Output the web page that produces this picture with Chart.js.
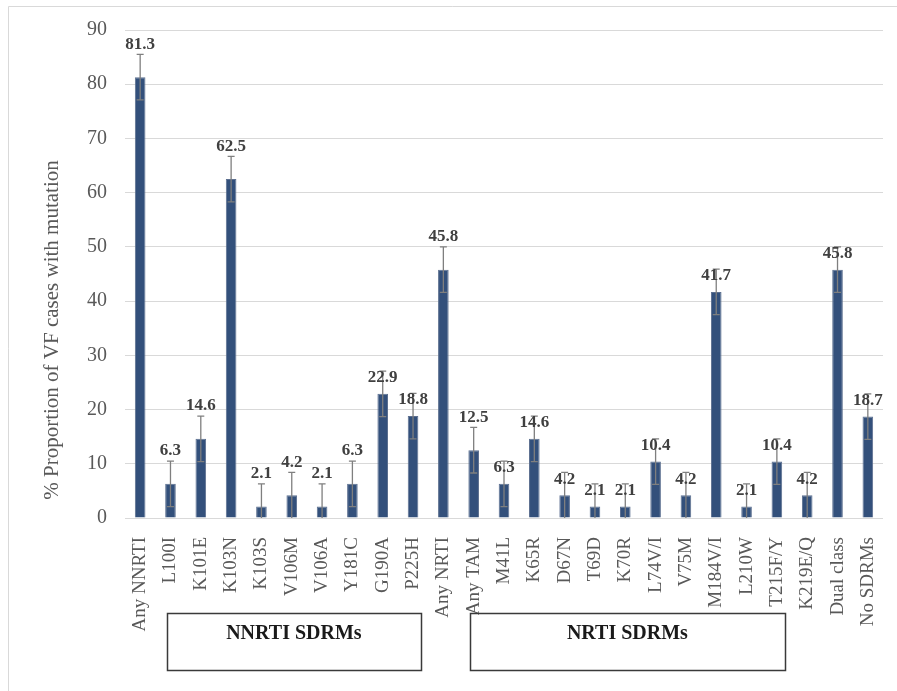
<!DOCTYPE html>
<html>
<head>
<meta charset="utf-8">
<script src="https://cdn.jsdelivr.net/npm/chart.js@4.4.0/dist/chart.umd.min.js"></script>
<style>
  html, body { margin: 0; padding: 0; background: #ffffff; }
  #wrap { width: 897px; height: 691px; position: relative; }
</style>
</head>
<body>
<div id="wrap"><canvas id="c" width="897" height="691"></canvas></div>
<script>
// Mutation categories along the x axis
const categories = [
  'Any NNRTI', 'L100I', 'K101E', 'K103N', 'K103S', 'V106M', 'V106A', 'Y181C', 'G190A', 'P225H',
  'Any NRTI', 'Any TAM', 'M41L', 'K65R', 'D67N', 'T69D', 'K70R', 'L74V/I', 'V75M', 'M184V/I',
  'L210W', 'T215F/Y', 'K219E/Q', 'Dual class', 'No SDRMs'
];

// % of virological-failure cases carrying each mutation
const proportions = [
  81.3, 6.3, 14.6, 62.5, 2.1, 4.2, 2.1, 6.3, 22.9, 18.8,
  45.8, 12.5, 6.3, 14.6, 4.2, 2.1, 2.1, 10.4, 4.2, 41.7,
  2.1, 10.4, 4.2, 45.8, 18.7
];

// Error bar half-widths (percentage points)
const errorMargins = [
  4.2, 4.2, 4.2, 4.2, 4.2, 4.2, 4.2, 4.2, 4.2, 4.2,
  4.2, 4.2, 4.2, 4.2, 4.2, 4.2, 4.2, 4.2, 4.2, 4.2,
  4.2, 4.2, 4.2, 4.2, 4.2
];

// Y axis tick values
const yTicks = [0, 10, 20, 30, 40, 50, 60, 70, 80, 90];

// Bracketed groups of single drug-resistance mutations
const groupNames = ['NNRTI SDRMs', 'NRTI SDRMs'];
const groupFirst = ['L100I', 'Any TAM'];
const groupLast = ['P225H', 'T215F/Y'];

// Value labels that sit clear of the top of the error bar
const labelsAboveErrorBar = ['Any NNRTI', 'L100I', 'K101E', 'K103N', 'K103S', 'V106M', 'V106A', 'Y181C', 'Any NRTI', 'Any TAM'];

const yTitle = '% Proportion of VF cases with mutation';

const SERIF = "'Liberation Serif', 'Times New Roman', serif";

const framePlugin = {
  id: 'frame',
  beforeDraw(chart) {
    const ctx = chart.ctx;
    ctx.save();
    ctx.fillStyle = '#ffffff';
    ctx.fillRect(0, 0, chart.width, chart.height);
    ctx.strokeStyle = '#d9d9d9';
    ctx.lineWidth = 1;
    ctx.beginPath();
    ctx.moveTo(8.5, chart.height);
    ctx.lineTo(8.5, 6.5);
    ctx.lineTo(chart.width, 6.5);
    ctx.stroke();
    // y axis title, set a little below the middle of the plot
    ctx.translate(52, chart.chartArea.bottom - 188);
    ctx.rotate(-Math.PI / 2);
    ctx.fillStyle = '#595959';
    ctx.font = '21px ' + SERIF;
    ctx.textAlign = 'center';
    ctx.textBaseline = 'middle';
    ctx.fillText(yTitle, 0, 0);
    ctx.restore();
  }
};

const errorBarPlugin = {
  id: 'errorBars',
  afterDatasetsDraw(chart) {
    const ctx = chart.ctx;
    const yScale = chart.scales.y;
    const meta = chart.getDatasetMeta(0);
    const cap = 3.5;
    ctx.save();
    ctx.strokeStyle = '#7f7f7f';
    ctx.lineWidth = 1.3;
    meta.data.forEach((bar, i) => {
      const v = proportions[i], e = errorMargins[i];
      const x = bar.x;
      const yHi = yScale.getPixelForValue(v + e);
      const lowVal = v - e;
      const yLo = yScale.getPixelForValue(Math.max(0, lowVal));
      ctx.beginPath();
      ctx.moveTo(x, yHi);
      ctx.lineTo(x, yLo);
      ctx.moveTo(x - cap, yHi);
      ctx.lineTo(x + cap, yHi);
      if (lowVal > 0) {
        ctx.moveTo(x - cap, yLo);
        ctx.lineTo(x + cap, yLo);
      }
      ctx.stroke();
    });
    // value labels
    ctx.fillStyle = '#404040';
    ctx.font = 'bold 17px ' + SERIF;
    ctx.textAlign = 'center';
    ctx.textBaseline = 'middle';
    meta.data.forEach((bar, i) => {
      const v = proportions[i], e = errorMargins[i];
      let y;
      if (labelsAboveErrorBar.includes(categories[i])) {
        y = yScale.getPixelForValue(v + e) - 10;
      } else {
        y = bar.y - 16;
      }
      ctx.fillText(v.toFixed(1), bar.x, y);
    });
    ctx.restore();
  }
};

const groupBoxPlugin = {
  id: 'groupBoxes',
  afterDraw(chart) {
    const ctx = chart.ctx;
    const xScale = chart.scales.x;
    const step = xScale.getPixelForValue(1) - xScale.getPixelForValue(0);
    const top = chart.chartArea.bottom + 95;
    const h = 57;
    ctx.save();
    ctx.strokeStyle = '#3a3a3a';
    ctx.lineWidth = 1.5;
    ctx.fillStyle = '#1a1a1a';
    ctx.font = 'bold 20px ' + SERIF;
    ctx.textAlign = 'center';
    ctx.textBaseline = 'middle';
    groupNames.forEach((name, g) => {
      const left = xScale.getPixelForValue(categories.indexOf(groupFirst[g])) - 0.12 * step;
      const right = xScale.getPixelForValue(categories.indexOf(groupLast[g])) + 0.26 * step;
      ctx.strokeRect(Math.round(left) + 0.5, Math.round(top) + 0.5, Math.round(right - left), h);
      ctx.fillText(name, (left + right) / 2, top + 21);
    });
    ctx.restore();
  }
};

new Chart(document.getElementById('c'), {
  type: 'bar',
  data: {
    labels: categories,
    datasets: [{
      data: proportions,
      backgroundColor: '#33507b',
      borderColor: '#5d7090',
      borderWidth: 1,
      barPercentage: 0.35,
      categoryPercentage: 1.0
    }]
  },
  options: {
    responsive: false,
    animation: false,
    devicePixelRatio: 1,
    layout: { padding: { left: 10, top: 23, right: 14, bottom: 0 } },
    plugins: { legend: { display: false }, tooltip: { enabled: false } },
    scales: {
      x: {
        grid: { display: false },
        border: { display: false },
        ticks: {
          color: '#595959',
          font: { family: SERIF, size: 19 },
          minRotation: 90,
          maxRotation: 90,
          autoSkip: false,
          padding: 11
        },
        afterFit(scale) {
          scale.height = 173;
          scale.paddingLeft = 0;
          scale.paddingRight = 0;
        }
      },
      y: {
        min: 0,
        max: 90,
        afterBuildTicks(scale) { scale.ticks = yTicks.map(v => ({ value: v })); },
        grid: { color: '#d9d9d9', lineWidth: 1, drawTicks: false },
        border: { display: false },
        ticks: {
          color: '#595959',
          font: { family: SERIF, size: 20 },
          padding: 18
        },
        afterFit(scale) { scale.width = 115; }
      }
    }
  },
  plugins: [framePlugin, errorBarPlugin, groupBoxPlugin]
});
</script>
</body>
</html>
